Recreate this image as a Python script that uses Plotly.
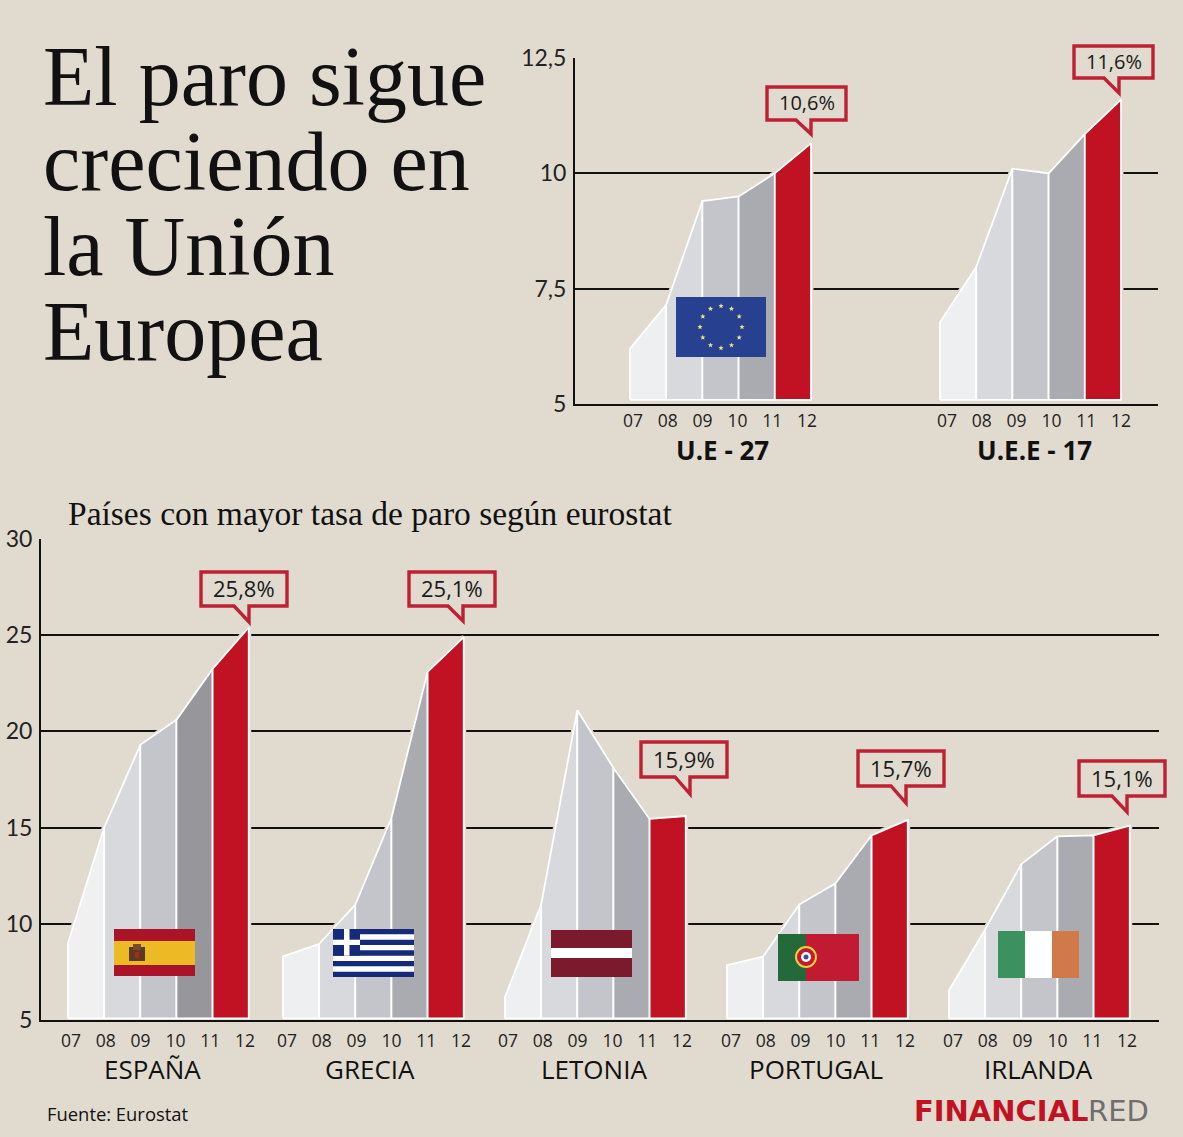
import math
import plotly.graph_objects as go

# ---------- data ----------
YEARS = ["07", "08", "09", "10", "11", "12"]

UE27 = [6.2, 7.15, 9.4, 9.5, 10.0, 10.65]
UEE17 = [6.77, 7.97, 10.1, 10.0, 10.85, 11.6]

ESPANA = [9.0, 15.0, 19.3, 20.6, 23.25, 25.4]
GRECIA = [8.3, 8.95, 11.0, 15.5, 23.1, 24.9]
LETONIA = [6.2, 11.0, 21.1, 18.1, 15.45, 15.6]
PORTUGAL = [7.85, 8.3, 11.0, 12.1, 14.6, 15.4]
IRLANDA = [6.55, 9.7, 13.1, 14.55, 14.6, 15.1]

TOP_TICKS = [5, 7.5, 10, 12.5]
TOP_TICK_TEXT = ["5", "7,5", "10", "12,5"]
BOTTOM_TICKS = [5, 10, 15, 20, 25, 30]
BOTTOM_TICK_TEXT = ["5", "10", "15", "20", "25", "30"]

TOP_LABELS = ["U.E - 27", "U.E.E - 17"]
TOP_CALLOUTS = ["10,6%", "11,6%"]
BOTTOM_LABELS = ["ESPAÑA", "GRECIA", "LETONIA", "PORTUGAL", "IRLANDA"]
BOTTOM_CALLOUTS = ["25,8%", "25,1%", "15,9%", "15,7%", "15,1%"]

# ---------- layout / style ----------
W, H = 1183, 1137
BG = "#e1dbcf"
RED = "#c11224"
CALL = "#bf2033"
SEG = ["#eeeff0", "#d8d9dd", "#c3c5ca", "#aaabb0", RED]
SANS = "Open Sans"
NARROW = "Lato"
SERIF = "Liberation Serif"

TOP = dict(l=575, r=1158, t=58, b=404, lo=5, hi=12.5, step=36.2, base=5.09)
BOT = dict(l=41, r=1159, t=539, b=1020, lo=5, hi=30, step=36.15, base=5.08)

fig = go.Figure()


def ux(p, px):
    return (px - p["l"]) / p["step"]


def add_group(p, xa, ya, values, start_px, seg=SEG):
    s = ux(p, start_px)
    xs = [s + i for i in range(len(values))]
    sx = xs + [xs[-1], xs[0], xs[0]]
    sy = values + [p["base"], p["base"], values[0]]
    fig.add_trace(go.Scatter(x=sx, y=sy, xaxis=xa, yaxis=ya, mode="lines",
                             line=dict(color=BG, width=5), hoverinfo="skip", showlegend=False))
    for i in range(len(values) - 1):
        fig.add_trace(go.Scatter(
            x=[xs[i], xs[i], xs[i + 1], xs[i + 1], xs[i]],
            y=[p["base"], values[i], values[i + 1], p["base"], p["base"]],
            xaxis=xa, yaxis=ya, mode="lines", fill="toself", fillcolor=seg[i],
            line=dict(color="#ffffff", width=1.8), hoverinfo="skip", showlegend=False))


add_group(TOP, "x", "y", UE27, 630)
add_group(TOP, "x", "y", UEE17, 940)
add_group(BOT, "x2", "y2", ESPANA, 68, ["#f0f0f1", "#d8d9dc", "#c3c5ca", "#97979b", RED])
add_group(BOT, "x2", "y2", GRECIA, 283)
add_group(BOT, "x2", "y2", LETONIA, 505)
add_group(BOT, "x2", "y2", PORTUGAL, 727)
add_group(BOT, "x2", "y2", IRLANDA, 949)

# helper full-canvas axes carry a point so they exist
fig.add_trace(go.Scatter(x=[0], y=[0], xaxis="x3", yaxis="y3", mode="markers",
                         marker=dict(opacity=0), hoverinfo="skip", showlegend=False))

shapes = []
ann = []


def rect(x0, y0, x1, y1, c):
    shapes.append(dict(type="rect", xref="x3", yref="y3", x0=x0, y0=y0, x1=x1, y1=y1,
                       fillcolor=c, line=dict(width=0), layer="above"))


def circle(cx, cy, r, c, lw=0, lc=None):
    shapes.append(dict(type="circle", xref="x3", yref="y3", x0=cx - r, y0=cy - r, x1=cx + r, y1=cy + r,
                       fillcolor=c, line=dict(width=lw, color=lc), layer="above"))


def star(cx, cy, r, c):
    pts = []
    for k in range(10):
        a = -math.pi / 2 + k * math.pi / 5
        rr = r if k % 2 == 0 else r * 0.42
        pts.append(f"{cx + rr * math.cos(a):.2f},{cy + rr * math.sin(a):.2f}")
    shapes.append(dict(type="path", xref="x3", yref="y3", path="M" + " L".join(pts) + " Z",
                       fillcolor=c, line=dict(width=0), layer="above"))


def text(x, y, t, size, font=SANS, color="#111111", xa="center"):
    ann.append(dict(xref="x3", yref="y3", x=x, y=y, text=t, showarrow=False, xanchor=xa, yanchor="middle",
                    font=dict(family=font, size=size, color=color)))


def callout(tip_x, tip_y, left, right, top, bottom, label, size):
    base = tip_x - 15
    shapes.append(dict(type="path", xref="x3", yref="y3", layer="above", fillcolor=BG,
                       line=dict(color=CALL, width=3.4),
                       path=f"M{left},{top} L{right},{top} L{right},{bottom} L{tip_x},{bottom} "
                            f"L{tip_x},{tip_y} L{base},{bottom} L{left},{bottom} Z"))
    text((left + right) / 2, (top + bottom) / 2 - 1, label, size, color="#1a1a1a")


# flags
rect(676, 297, 766, 357, "#27408f")
for k in range(12):
    a = k * math.pi / 6
    star(721 + 21 * math.sin(a), 327 - 21 * math.cos(a), 2.8, "#e8e483")

rect(114, 929, 195, 976, "#ab1428")
rect(114, 941, 195, 965, "#ecba25")
rect(129, 947, 145, 961, "#5b3a22")
rect(133, 944, 141, 950, "#7a4a2a")
rect(135, 952, 139, 958, "#a8262c")

rect(333, 929, 414, 977, "#ffffff")
for k in range(0, 9, 2):
    rect(333, 929 + k * 48 / 9, 414, 929 + (k + 1) * 48 / 9, "#152a78")
rect(333, 929, 360, 955.7, "#152a78")
rect(344, 929, 349.5, 955.7, "#ffffff")
rect(333, 939.7, 360, 945, "#ffffff")

rect(551, 930, 632, 977, "#7a1a2c")
rect(551, 948, 632, 958, "#ffffff")

rect(778, 934, 859, 981, "#c11a32")
rect(778, 934, 806, 981, "#23693a")
circle(806, 957, 10, "#c11a32", 2, "#e8d23a")
circle(806, 957, 5, "#ffffff")
circle(806, 957, 2.5, "#3a4f9c")

rect(998, 931, 1025, 978, "#3b925f")
rect(1025, 931, 1052, 978, "#ffffff")
rect(1052, 931, 1079, 978, "#d2794a")

# callouts
callout(811, 134, 767, 846, 87, 120, TOP_CALLOUTS[0], 20)
callout(1119, 93, 1074, 1153, 46, 78, TOP_CALLOUTS[1], 20)
callout(249, 622, 201, 287, 572, 606, BOTTOM_CALLOUTS[0], 22)
callout(463, 621, 409, 495, 572, 606, BOTTOM_CALLOUTS[1], 22)
callout(690, 794, 641, 727, 742, 777, BOTTOM_CALLOUTS[2], 22)
callout(906, 803, 858, 944, 751, 786, BOTTOM_CALLOUTS[3], 22)
callout(1127, 812, 1079, 1165, 761, 796, BOTTOM_CALLOUTS[4], 22)

# text
for y, line in zip([76, 161, 246, 331], ["El paro sigue", "creciendo en", "la Unión", "Europea"]):
    text(41, y, line, 84, SERIF, xa="left")
text(66, 513, "Países con mayor tasa de paro según eurostat", 33.5, SERIF, xa="left")
ann.append(dict(xref="x3", yref="y3", x=722, y=450, text="<b>" + TOP_LABELS[0] + "</b>", showarrow=False,
                font=dict(family=SANS, size=26, color="#111")))
ann.append(dict(xref="x3", yref="y3", x=1034, y=450, text="<b>" + TOP_LABELS[1] + "</b>", showarrow=False,
                font=dict(family=SANS, size=26, color="#111")))
for x, l in zip([152, 370, 594, 816, 1038], BOTTOM_LABELS):
    text(x, 1069, l, 26)
text(45, 1113, "Fuente: Eurostat", 18.4, xa="left")
ann.append(dict(xref="x3", yref="y3", x=912, y=1111, text="<b>FINANCIAL</b>", showarrow=False, xanchor="left",
                font=dict(family="DejaVu Sans", size=29, color="#c11224")))
ann.append(dict(xref="x3", yref="y3", x=1086, y=1111, text="RED", showarrow=False, xanchor="left",
                font=dict(family="DejaVu Sans", size=29, color="#6e6e6e")))


def x_ticks(p, starts):
    step = 34.8 / p["step"]
    vals, txt = [], []
    for st in starts:
        for i, y in enumerate(YEARS):
            vals.append(ux(p, st) + i * step)
            txt.append(y)
    return vals, txt


tv, tt = x_ticks(TOP, [633, 947])
tv2, tt2 = x_ticks(BOT, [71, 287, 508, 731, 953])


def axes(p, tickvals, ticktext, yvals, ytext, ysize, standoff):
    xa = dict(domain=[p["l"] / W, p["r"] / W], range=[0, (p["r"] - p["l"]) / p["step"]],
              tickmode="array", tickvals=tickvals, ticktext=ticktext, showgrid=False, zeroline=False,
              showline=True, linecolor="#111", linewidth=2, ticks="", ticklabelstandoff=standoff,
              tickfont=dict(family=SANS, size=17.5, color="#222"), fixedrange=True)
    ya = dict(domain=[1 - p["b"] / H, 1 - p["t"] / H], range=[p["lo"], p["hi"]],
              tickmode="array", tickvals=yvals, ticktext=ytext, showgrid=True, gridcolor="#111", gridwidth=2,
              zeroline=False, showline=True, linecolor="#111", linewidth=2, ticks="", ticklabelstandoff=2,
              tickfont=dict(family=NARROW, size=ysize, color="#222"), fixedrange=True)
    return xa, ya


xa1, ya1 = axes(TOP, tv, tt, TOP_TICKS, TOP_TICK_TEXT, 23, 0)
xa2, ya2 = axes(BOT, tv2, tt2, BOTTOM_TICKS, BOTTOM_TICK_TEXT, 23, 4)
xa1["anchor"] = "y"
ya1["anchor"] = "x"
xa2["anchor"] = "y2"
ya2["anchor"] = "x2"

fig.update_layout(
    width=W, height=H, autosize=False, margin=dict(l=0, r=0, t=0, b=0, pad=0, autoexpand=False),
    paper_bgcolor=BG, plot_bgcolor="rgba(0,0,0,0)", showlegend=False,
    xaxis=xa1, yaxis=ya1, xaxis2=xa2, yaxis2=ya2,
    xaxis3=dict(domain=[0, 1], range=[0, W], visible=False, anchor="y3", fixedrange=True),
    yaxis3=dict(domain=[0, 1], range=[H, 0], visible=False, anchor="x3", fixedrange=True),
    shapes=shapes, annotations=ann,
)

fig.write_html("out.html", config=dict(displayModeBar=False),
               post_script="document.body.style.margin='0';document.body.style.overflow='hidden';")
